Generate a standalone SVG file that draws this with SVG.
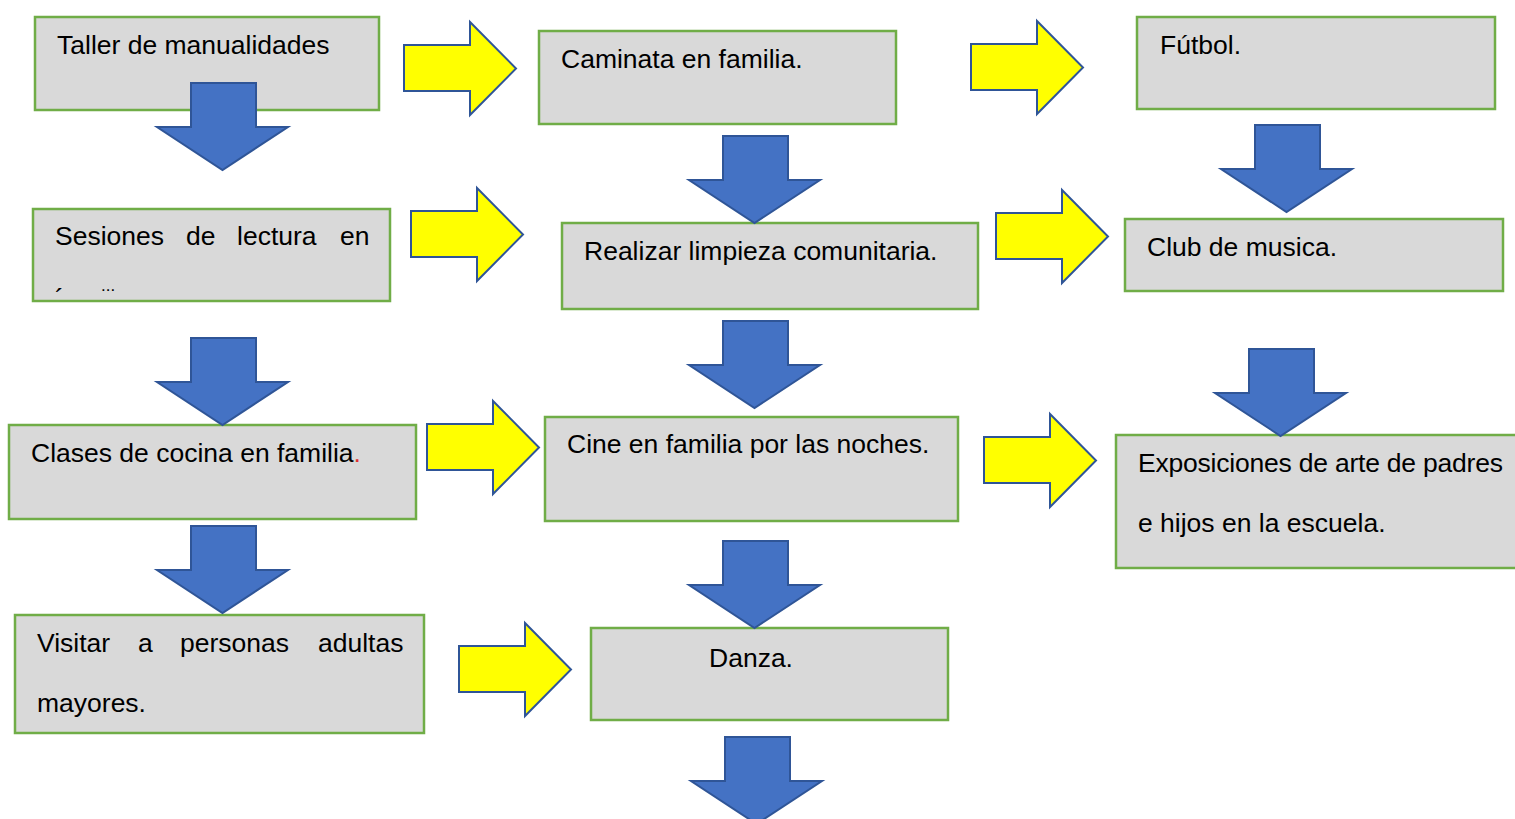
<svg xmlns="http://www.w3.org/2000/svg" xmlns:xlink="http://www.w3.org/1999/xlink" width="1515" height="819" viewBox="0 0 1515 819">
<style>
.box{fill:#D9D9D9;stroke:#70AD47;stroke-width:2.5}
.t{font-family:"Liberation Sans",Arial,sans-serif;font-size:26.5px;fill:#000}
.ya{fill:#FFFF00;stroke:#2F5597;stroke-width:2}
.ba{fill:#4472C4;stroke:#2F5597;stroke-width:2}
</style>
<defs>
<path id="ra" d="M0,23 H66 V0 L112,46.5 L66,93 V69 H0 Z"/>
<path id="da" d="M34,0 H99 V44 H131 L65.5,87 L0,44 H34 Z"/>
<clipPath id="c4"><rect x="33" y="209" width="357" height="91"/></clipPath>
</defs>
<rect width="1515" height="819" fill="#fff"/>
<g id="nodes">
<g id="n1"><rect class="box" x="35" y="17" width="344" height="93"/><text class="t" x="57" y="54">Taller de manualidades</text></g>
<g id="n2"><rect class="box" x="539" y="31" width="357" height="93"/><text class="t" x="561" y="68">Caminata en familia.</text></g>
<g id="n3"><rect class="box" x="1137" y="17" width="358" height="92"/><text class="t" x="1160" y="54">Fútbol.</text></g>
<g id="n4"><rect class="box" x="33" y="209" width="357" height="92"/>
<text class="t" y="245"><tspan x="55">Sesiones</tspan><tspan x="186">de</tspan><tspan x="237">lectura</tspan><tspan x="340">en</tspan></text>
<g clip-path="url(#c4)"><text class="t" x="55" y="307">´</text><text class="t" x="101" y="291" style="font-size:17px">...</text></g></g>
<g id="n5"><rect class="box" x="562" y="223" width="416" height="86"/><text class="t" x="584" y="260">Realizar limpieza comunitaria.</text></g>
<g id="n6"><rect class="box" x="1125" y="219" width="378" height="72"/><text class="t" x="1147" y="256">Club de musica.</text></g>
<g id="n7"><rect class="box" x="9" y="425" width="407" height="94"/><text class="t" x="31" y="462">Clases de cocina en familia<tspan fill="#E03030">.</tspan></text></g>
<g id="n8"><rect class="box" x="545" y="417" width="413" height="104"/><text class="t" x="567" y="453">Cine en familia por las noches.</text></g>
<g id="n9"><rect class="box" x="1116" y="435" width="420" height="133"/><text class="t" x="1138" y="472" textLength="365" lengthAdjust="spacing">Exposiciones de arte de padres</text><text class="t" x="1138" y="532">e hijos en la escuela.</text></g>
<g id="n10"><rect class="box" x="15" y="615" width="409" height="118"/>
<text class="t" y="652"><tspan x="37">Visitar</tspan><tspan x="138">a</tspan><tspan x="180">personas</tspan><tspan x="318">adultas</tspan></text>
<text class="t" x="37" y="712">mayores.</text></g>
<g id="n11"><rect class="box" x="591" y="628" width="357" height="92"/><text class="t" x="751" y="667" text-anchor="middle">Danza.</text></g>
</g>
<g id="connectors">
<use xlink:href="#ra" class="ya" transform="translate(404,22)"/>
<use xlink:href="#ra" class="ya" transform="translate(971,21)"/>
<use xlink:href="#ra" class="ya" transform="translate(411,188)"/>
<use xlink:href="#ra" class="ya" transform="translate(996,190)"/>
<use xlink:href="#ra" class="ya" transform="translate(427,401)"/>
<use xlink:href="#ra" class="ya" transform="translate(984,414)"/>
<use xlink:href="#ra" class="ya" transform="translate(459,623)"/>
<use xlink:href="#da" class="ba" transform="translate(157,83)"/>
<use xlink:href="#da" class="ba" transform="translate(689,136)"/>
<use xlink:href="#da" class="ba" transform="translate(1221,125)"/>
<use xlink:href="#da" class="ba" transform="translate(157,338)"/>
<use xlink:href="#da" class="ba" transform="translate(689,321)"/>
<use xlink:href="#da" class="ba" transform="translate(1215,349)"/>
<use xlink:href="#da" class="ba" transform="translate(157,526)"/>
<use xlink:href="#da" class="ba" transform="translate(689,541)"/>
<use xlink:href="#da" class="ba" transform="translate(691,737)"/>
</g>
</svg>
